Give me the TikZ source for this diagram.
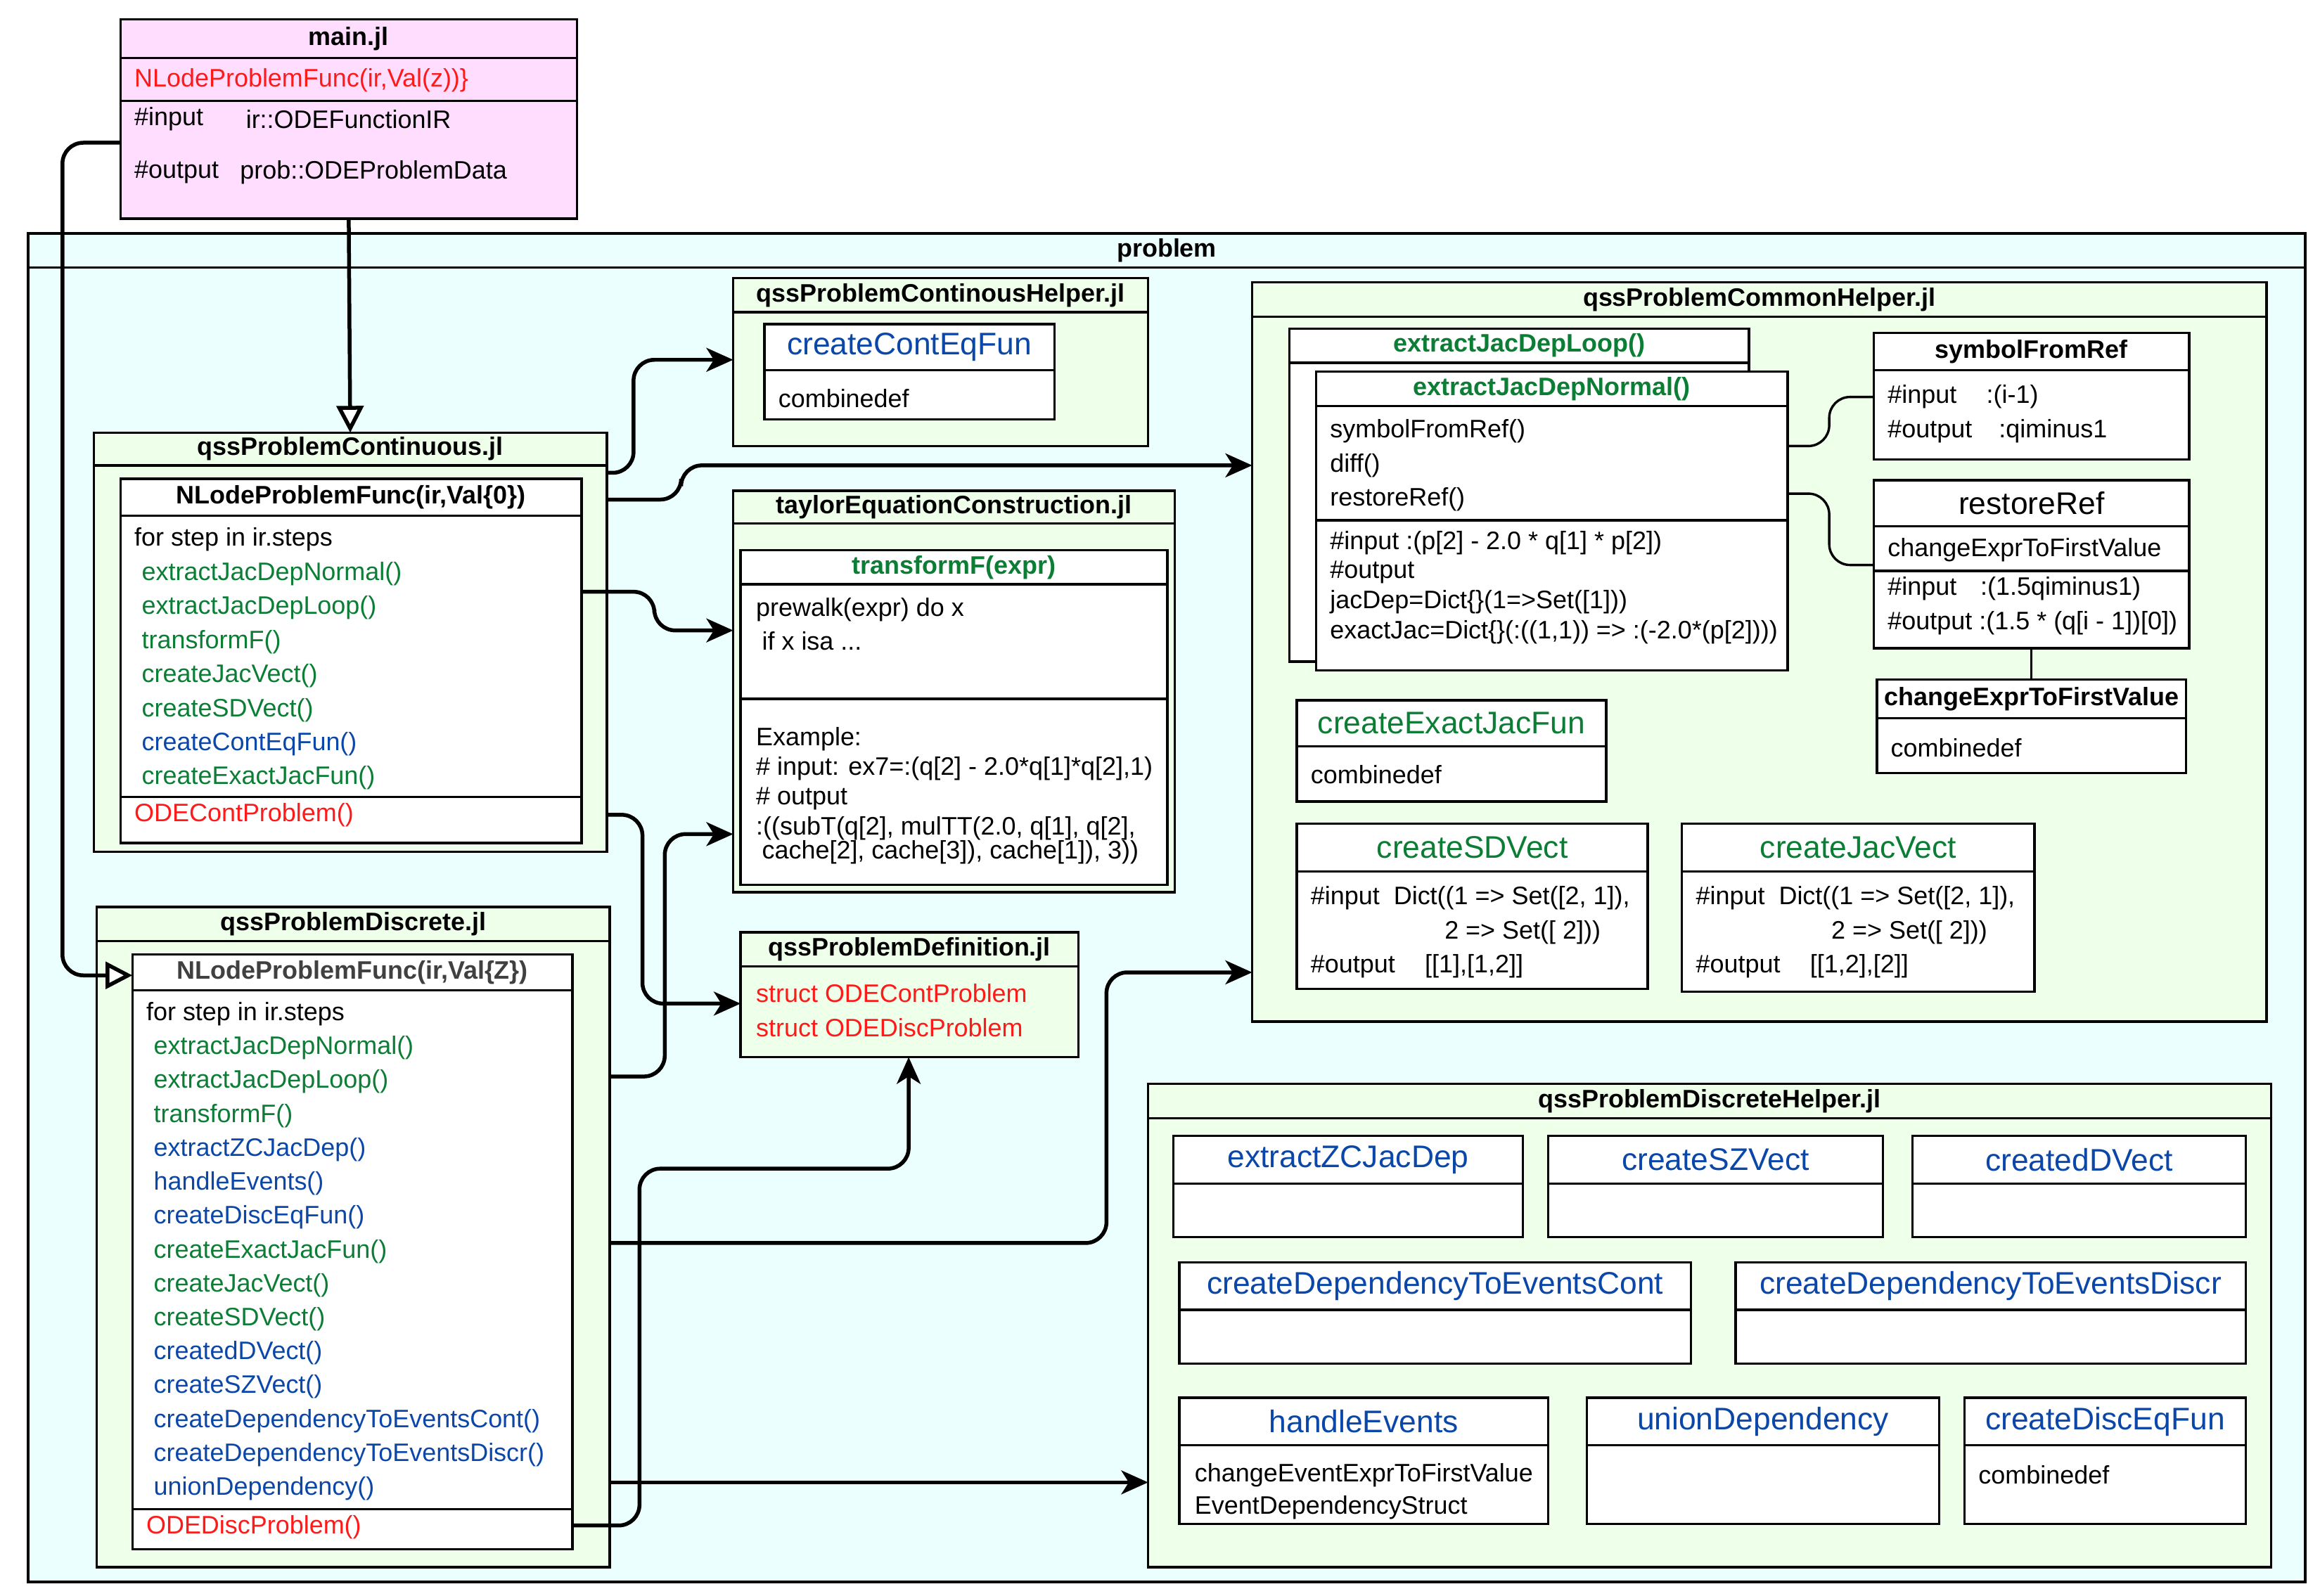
\documentclass[tikz,border=0pt]{standalone}
\usepackage{fontspec}
\setmainfont{Liberation Sans}
\usetikzlibrary{fit,arrows.meta,calc}
\definecolor{cred}{HTML}{FF1A1A}
\definecolor{cgreen}{HTML}{0B7D35}
\definecolor{cblue}{HTML}{0B47A8}
\definecolor{cpink}{HTML}{FFDDFF}
\definecolor{ccyan}{HTML}{EBFFFF}
\definecolor{cgr}{HTML}{EEFFEA}
\newcommand\ubox[8]{%
 \node[fit={(#2,#3)(#4,#5)},inner sep=0pt,outer sep=0pt,draw,fill=#7,line width=0.8pt] (#1) {};
 \draw[line width=0.8pt] (#2,#6) -- (#4,#6);
 \node[inner sep=0pt] at ({(#2+#4)/2},{(#3+#6)/2}) {#8};}
\tikzset{
 tx/.style={anchor=west,inner sep=0pt,font=\fontsize{8.5}{10}\selectfont},
 conn/.style={line width=1.3pt,rounded corners=7,-{Stealth[inset=2.5pt,length=9pt,width=8pt]}},
 inh/.style={line width=1.3pt,rounded corners=7,-{Triangle[open,length=9pt,width=9pt,fill=white]}},
 thin/.style={line width=0.8pt,rounded corners=7},
}
\newcommand\bigt[2]{\fontsize{10.5}{12}\selectfont\color{#1}#2}
\newcommand\bt[2]{\fontsize{8.5}{10}\selectfont\bfseries\color{#1}#2}
\begin{document}
\begin{tikzpicture}[x=0.5pt,y=-0.5pt]
\useasboundingbox[fill=white] (0,0) rectangle (1560,1073.4);
% main
\ubox{mainjl}{81}{13}{388}{147}{39}{cpink}{\bt{black}{main.jl}}
\draw[line width=0.8pt] (81,68) -- (388,68);
\node[tx,text=cred] at (90,54) {NLodeProblemFunc(ir,Val(z))\}};
\node[tx] at (90,80) {\#input}; \node[tx] at (165,80) {ir::ODEFunctionIR};
\node[tx] at (90,116) {\#output}; \node[tx] at (161,116) {prob::ODEProblemData};
% problem
\ubox{problem}{19}{157}{1550}{1064}{180}{ccyan}{\bt{black}{problem}}
% continuous helper
\ubox{helpc}{493}{187}{772}{300}{210}{cgr}{\bt{black}{qssProblemContinousHelper.jl}}
\ubox{ccef}{514}{218}{709}{282}{249}{white}{\bigt{cblue}{createContEqFun}}
\node[tx] at (523,268) {combinedef};
% common helper
\ubox{common}{842}{190}{1524}{687}{213}{cgr}{\bt{black}{qssProblemCommonHelper.jl}}
\ubox{loop}{867}{221}{1176}{445}{244}{white}{\bt{cgreen}{extractJacDepLoop()}}
\ubox{normal}{885}{250}{1202}{451}{273}{white}{\bt{cgreen}{extractJacDepNormal()}}
\draw[line width=0.8pt] (885,350) -- (1202,350);
\node[tx] at (894,290) {symbolFromRef()};
\node[tx] at (894,313) {diff()};
\node[tx] at (894,336) {restoreRef()};
\node[tx] at (894,365) {\#input :(p[2] - 2.0 * q[1] * p[2])};
\node[tx] at (894,385) {\#output};
\node[tx] at (894,405) {jacDep=Dict\{\}(1=>Set([1]))};
\node[tx] at (894,425) {exactJac=Dict\{\}(:((1,1)) => :(-2.0*(p[2])))};
\ubox{sym}{1260}{224}{1472}{309}{249}{white}{\bt{black}{symbolFromRef}}
\node[tx] at (1269,267) {\#input\hspace{10pt}:(i-1)};
\node[tx] at (1269,290) {\#output\hspace{9pt}:qiminus1};
\ubox{rref}{1260}{323}{1472}{436}{354}{white}{\bigt{black}{restoreRef}}
\draw[line width=0.8pt] (1260,384) -- (1472,384);
\node[tx] at (1269,370) {changeExprToFirstValue};
\node[tx] at (1269,396) {\#input\hspace{8pt}:(1.5qiminus1)};
\node[tx] at (1269,419) {\#output :(1.5 * (q[i - 1])[0])};
\ubox{ch2}{1262}{457}{1470}{520}{483}{white}{\bt{black}{changeExprToFirstValue}}
\node[tx] at (1271,503) {combinedef};
\draw[line width=0.8pt] (rref.south) -- (ch2.north);
\ubox{cejf}{872}{471}{1080}{539}{502}{white}{\bigt{cgreen}{createExactJacFun}}
\node[tx] at (881,521) {combinedef};
\ubox{csd}{872}{554}{1108}{665}{586}{white}{\bigt{cgreen}{createSDVect}}
\node[tx] at (881,604) {\#input\ \ Dict((1 => Set([2, 1]),};
\node[tx] at (971,627) {2 => Set([ 2]))};
\node[tx] at (881,650) {\#output\hspace{10pt}[[1],[1,2]]};
\ubox{cjv}{1131}{554}{1368}{667}{586}{white}{\bigt{cgreen}{createJacVect}}
\node[tx] at (1140,604) {\#input\ \ Dict((1 => Set([2, 1]),};
\node[tx] at (1231,627) {2 => Set([ 2]))};
\node[tx] at (1140,650) {\#output\hspace{10pt}[[1,2],[2]]};
% taylor
\ubox{taylor}{493}{330}{790}{600}{352}{cgr}{\bt{black}{taylorEquationConstruction.jl}}
\ubox{tf}{498}{370}{785}{595}{393}{white}{\bt{cgreen}{transformF(expr)}}
\draw[line width=0.8pt] (498,470) -- (785,470);
\node[tx] at (508,410) {prewalk(expr) do x};
\node[tx] at (512,431) {if x isa ...};
\node[tx] at (508,497) {Example:};
\node[tx] at (508,517) {\# input: ex7=:(q[2] - 2.0*q[1]*q[2],1)};
\node[tx] at (508,537) {\# output};
\node[tx] at (508,557) {:((subT(q[2], mulTT(2.0, q[1], q[2],};
\node[tx] at (512,573) {cache[2], cache[3]), cache[1]), 3))};
% definition
\ubox{defn}{498}{627}{725}{711}{650}{cgr}{\bt{black}{qssProblemDefinition.jl}}
\node[tx,text=cred] at (508,668) {struct ODEContProblem};
\node[tx,text=cred] at (508,691) {struct ODEDiscProblem};
% continuous
\ubox{cont}{63}{291}{408}{573}{313}{cgr}{\bt{black}{qssProblemContinuous.jl}}
\ubox{contf}{81}{322}{391}{567}{347}{white}{\bt{black}{NLodeProblemFunc(ir,Val\{0\})}}
\draw[line width=0.8pt] (81,536) -- (391,536);
\node[tx] at (90,363) {for step in ir.steps};
\foreach \t/\c [count=\i] in {extractJacDepNormal()/cgreen,extractJacDepLoop()/cgreen,transformF()/cgreen,createJacVect()/cgreen,createSDVect()/cgreen,createContEqFun()/cblue,createExactJacFun()/cgreen}
  \node[tx,text=\c] at (95,{363+22.9*\i}) {\t};
\node[tx,text=cred] at (90,548) {ODEContProblem()};
% discrete
\ubox{disc}{65}{610}{410}{1054}{633}{cgr}{\bt{black}{qssProblemDiscrete.jl}}
\ubox{discf}{89}{642}{385}{1042}{666}{white}{\bt{black!75}{NLodeProblemFunc(ir,Val\{Z\})}}
\draw[line width=0.8pt] (89,1015) -- (385,1015);
\node[tx] at (98,682) {for step in ir.steps};
\foreach \t/\c [count=\i] in {extractJacDepNormal()/cgreen,extractJacDepLoop()/cgreen,transformF()/cgreen,extractZCJacDep()/cblue,handleEvents()/cblue,createDiscEqFun()/cblue,createExactJacFun()/cgreen,createJacVect()/cgreen,createSDVect()/cgreen,createdDVect()/cblue,createSZVect()/cblue,createDependencyToEventsCont()/cblue,createDependencyToEventsDiscr()/cblue,unionDependency()/cblue}
  \node[tx,text=\c] at (103,{682+22.8*\i}) {\t};
\node[tx,text=cred] at (98,1027) {ODEDiscProblem()};
% discrete helper
\ubox{dhelp}{772}{729}{1527}{1054}{752}{cgr}{\bt{black}{qssProblemDiscreteHelper.jl}}
\ubox{ezc}{789}{764}{1024}{832}{796}{white}{\bigt{cblue}{extractZCJacDep}}
\ubox{csz}{1041}{764}{1266}{832}{796}{white}{\bigt{cblue}{createSZVect}}
\ubox{cdd}{1286}{764}{1510}{832}{796}{white}{\bigt{cblue}{createdDVect}}
\ubox{cdc}{793}{849}{1137}{917}{881}{white}{\bigt{cblue}{createDependencyToEventsCont}}
\ubox{cdd2}{1167}{849}{1510}{917}{881}{white}{\bigt{cblue}{createDependencyToEventsDiscr}}
\ubox{he}{793}{940}{1041}{1025}{972}{white}{\bigt{cblue}{handleEvents}}
\node[tx] at (803,992) {changeEventExprToFirstValue};
\node[tx] at (803,1014) {EventDependencyStruct};
\ubox{ud}{1067}{940}{1304}{1025}{972}{white}{\bigt{cblue}{unionDependency}}
\ubox{cdef}{1321}{940}{1510}{1025}{972}{white}{\bigt{cblue}{createDiscEqFun}}
\node[tx] at (1330,992) {combinedef};
% connectors
\draw[inh] (mainjl.south) -- (cont.north);
\draw[inh] (mainjl.west |- {(0,96)}) -- (42,96) -- (42,656) -- (discf.west |- {(0,656)});
\draw[conn] (cont.east |- {(0,318)}) -- (426,318) -- (426,242) -- (helpc.west |- {(0,242)});
\draw[conn] (cont.east |- {(0,336)}) -- (458,336) -- (458,313) -- (common.west |- {(0,313)});
\draw[conn] (contf.east |- {(0,398)}) -- (440,398) -- (440,424) -- (taylor.west |- {(0,424)});
\draw[conn] (cont.east |- {(0,548)}) -- (432,548) -- (432,675) -- (defn.west |- {(0,675)});
\draw[conn] (disc.east |- {(0,724)}) -- (447,724) -- (447,561) -- (taylor.west |- {(0,561)});
\draw[conn] (disc.east |- {(0,836)}) -- (744,836) -- (744,654) -- (common.west |- {(0,654)});
\draw[conn] (discf.east |- {(0,1026)}) -- (430,1026) -- (430,786) -- (611,786) -- (611,711);
\draw[conn] (disc.east |- {(0,997)}) -- (dhelp.west |- {(0,997)});
\draw[thin] (normal.east |- {(0,300)}) -- (1230,300) -- (1230,267) -- (sym.west |- {(0,267)});
\draw[thin] (normal.east |- {(0,332)}) -- (1230,332) -- (1230,380) -- (rref.west |- {(0,380)});
\end{tikzpicture}
\end{document}
